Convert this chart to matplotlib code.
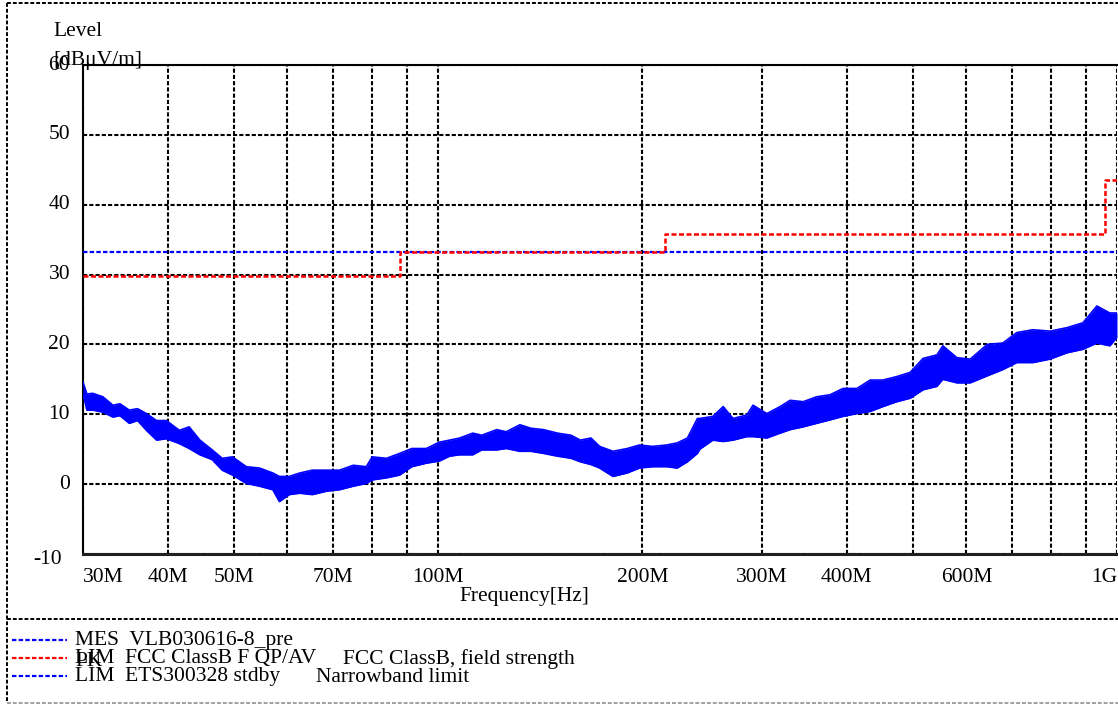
import matplotlib
matplotlib.use('Agg')
from matplotlib import pyplot as plt
from matplotlib import transforms
from matplotlib.lines import Line2D
from matplotlib.ticker import LogLocator, NullFormatter

# Data

# measured trace (MHz) with upper / lower edge of the noisy band (dBuV/m)
trace_freq = [30.0, 30.4, 31.0, 32.1, 33.2, 34.0, 35.1, 36.1, 37.2, 38.5,
              39.8, 41.6, 43.0, 44.6, 46.5, 48.1, 49.8, 52.2, 54.6, 57.1,
              58.4, 60.4, 62.6, 65.3, 68.6, 71.6, 75.0, 78.4, 80.0, 84.0,
              87.8, 91.5, 96.1, 100.4, 104, 107.6, 112.5, 116, 122, 126,
              132, 137, 143, 150, 157, 162, 168, 173, 181, 190,
              198, 207, 217, 225, 233, 241, 243, 254, 263, 272,
              285, 291, 305, 319, 330, 345, 361, 378, 395, 414,
              433, 452, 474, 496, 518, 543, 554, 581, 608, 644,
              679, 712, 752, 797, 844, 891, 934, 976, 1000]
trace_hi = [14.6, 12.9, 13.0, 12.5, 11.3, 11.5, 10.6, 10.8, 10.1, 9.1,
            9.1, 7.7, 8.2, 6.3, 4.9, 3.7, 3.9, 2.5, 2.3, 1.6,
            1.1, 1.1, 1.6, 2.0, 2.0, 2.0, 2.7, 2.5, 3.9, 3.7,
            4.4, 5.1, 5.1, 6.0, 6.3, 6.6, 7.3, 7.0, 7.8, 7.5,
            8.5, 8.0, 7.8, 7.3, 7.0, 6.3, 6.6, 5.4, 4.7, 5.1,
            5.6, 5.4, 5.6, 5.9, 6.6, 9.4, 9.4, 9.7, 11.1, 9.4,
            9.9, 11.3, 10.1, 11.1, 12.0, 11.8, 12.5, 12.8, 13.7, 13.7,
            14.9, 14.9, 15.4, 16.0, 18.0, 18.5, 19.8, 18.1, 17.9, 20.0,
            20.2, 21.7, 22.1, 21.9, 22.4, 23.1, 25.5, 24.5, 24.5]
trace_lo = [12.9, 10.6, 10.6, 10.3, 9.6, 9.8, 8.7, 9.1, 7.7, 6.3,
            6.5, 5.8, 5.1, 4.2, 3.5, 2.0, 1.3, 0.1, -0.3, -0.8,
            -2.5, -1.5, -1.3, -1.5, -1.0, -0.8, -0.3, 0.1, 0.6, 0.9,
            1.3, 2.5, 3.0, 3.3, 4.0, 4.2, 4.2, 4.9, 4.9, 5.1,
            4.7, 4.7, 4.4, 4.0, 3.7, 3.2, 2.8, 2.3, 1.1, 1.6,
            2.3, 2.5, 2.5, 2.3, 3.2, 4.4, 5.0, 6.3, 6.1, 6.3,
            6.8, 6.8, 6.6, 7.3, 7.8, 8.2, 8.7, 9.2, 9.7, 10.1,
            10.4, 11.1, 11.8, 12.3, 13.5, 14.0, 15.0, 14.5, 14.5, 15.5,
            16.4, 17.4, 17.4, 17.9, 18.8, 19.3, 20.2, 19.8, 21.0]

# FCC class B limit (step, value valid from freq onwards)
fcc_freq = [30, 88, 216, 960, 1000]
fcc_level = [29.8, 33.3, 35.8, 43.5, 43.5]

# ETS 300 328 narrowband limit
ets_freq = [30, 1000]
ets_level = [33.3, 33.3]

ytick_vals = [0, 10, 20, 30, 40, 50, 60]
xtick_vals = [30, 40, 50, 70, 100, 200, 300, 400, 600, 1000]
xtick_text = ['30M', '40M', '50M', '70M', '100M', '200M', '300M', '400M',
              '600M', '1G']

legend_rows = [
    ('blue', 'MES  VLB030616-8_pre', ''),
    ('red', 'LIM  FCC ClassB F QP/AV', 'FCC ClassB, field strength'),
    ('blue', 'LIM  ETS300328 stdby', 'Narrowband limit'),
]


# Plot

W, H = 1118, 704
FS = 15.5
DASH = (0, (2, 1))

plt.rcParams['font.family'] = ['Liberation Serif', 'DejaVu Serif']


def fx(x):
    return x / W


def fy(y):
    return 1 - y / H


fig = plt.figure(figsize=(W / 100, H / 100), dpi=100)
ax = fig.add_axes([fx(83), fy(554), fx(1117) - fx(83), fy(65) - fy(554)])

ax.set_xscale('log')
ax.set_xlim(30, 1000)
ax.set_ylim(-10, 60)

ax.xaxis.set_major_locator(LogLocator(base=10, subs=[1.0]))
ax.xaxis.set_minor_locator(LogLocator(base=10, subs=range(2, 10)))
ax.xaxis.set_minor_formatter(NullFormatter())
ax.set_yticks(range(-10, 70, 10))
ax.tick_params(which='both', length=0, labelbottom=False, labelleft=False)
ax.grid(which='both', color='black', linestyle=DASH, linewidth=1.5)

ax.spines['right'].set_visible(False)
for side in ['left', 'top']:
    ax.spines[side].set_linestyle(DASH)
    ax.spines[side].set_linewidth(1.5)
ax.spines['bottom'].set_linewidth(2.2)
ax.spines['bottom'].set_color('#202020')

# measured trace
ax.fill_between(trace_freq, trace_lo, trace_hi, color='#0000ff', lw=0,
                zorder=3)
ax.plot(trace_freq, trace_hi, color='#0000ff', lw=1.2, zorder=3)
ax.plot(trace_freq, trace_lo, color='#0000ff', lw=1.2, zorder=3)

# limits
ax.plot(ets_freq, ets_level, color='#0000ff', linestyle=DASH, lw=1.6,
        zorder=4)
ax.step(fcc_freq, fcc_level, where='post', color='#ff0000', linestyle=DASH,
        lw=1.8, zorder=5)

# tick labels
ytr = transforms.blended_transform_factory(fig.transFigure, ax.transData)
for v in ytick_vals:
    ax.text(fx(70), v, str(v), transform=ytr, ha='right', va='center',
            fontsize=FS)
fig.text(fx(62), fy(560), '-10', ha='right', va='center', fontsize=FS)

xtr = transforms.blended_transform_factory(ax.transData, fig.transFigure)
for f, t in zip(xtick_vals, xtick_text):
    ha = 'center'
    if f == xtick_vals[0]:
        ha = 'left'
    elif f == xtick_vals[-1]:
        ha = 'right'
    ax.text(f, fy(577), t, transform=xtr, ha=ha, va='center', fontsize=FS)

fig.text(fx(524), fy(597), 'Frequency[Hz]', ha='center', va='center',
         fontsize=FS)
fig.text(fx(53), fy(32), 'Level', ha='left', va='center', fontsize=FS)
fig.text(fx(53), fy(60), '[dB\u03bcV/m]', ha='left', va='center',
         fontsize=FS)

# frame around the whole sheet
frame = [
    ([7, 7], [3, 703], 'black'),
    ([7, W], [3, 3], 'black'),
    ([7, W], [619, 619], 'black'),
    ([7, W], [703, 703], '#a0a0a0'),
]
for xs, ys, c in frame:
    fig.add_artist(Line2D([fx(x) for x in xs], [fy(y) for y in ys],
                          color=c, linestyle=DASH, lw=1.4))

# legend block
row_y = [641, 659, 677]
for (c, left_txt, right_txt), y in zip(legend_rows, row_y):
    fig.add_artist(Line2D([fx(12), fx(67)], [fy(y - 1), fy(y - 1)],
                          color=c, linestyle=DASH, lw=1.6))
    fig.text(fx(75), fy(y), left_txt, ha='left', va='center', fontsize=FS)
fig.text(fx(75), fy(662), 'PK', ha='left', va='center', fontsize=FS)
fig.text(fx(343), fy(659), legend_rows[1][2], ha='left', va='center',
         fontsize=FS)
fig.text(fx(316), fy(677), legend_rows[2][2], ha='left', va='center',
         fontsize=FS)

fig.savefig('out.png', dpi=100)
